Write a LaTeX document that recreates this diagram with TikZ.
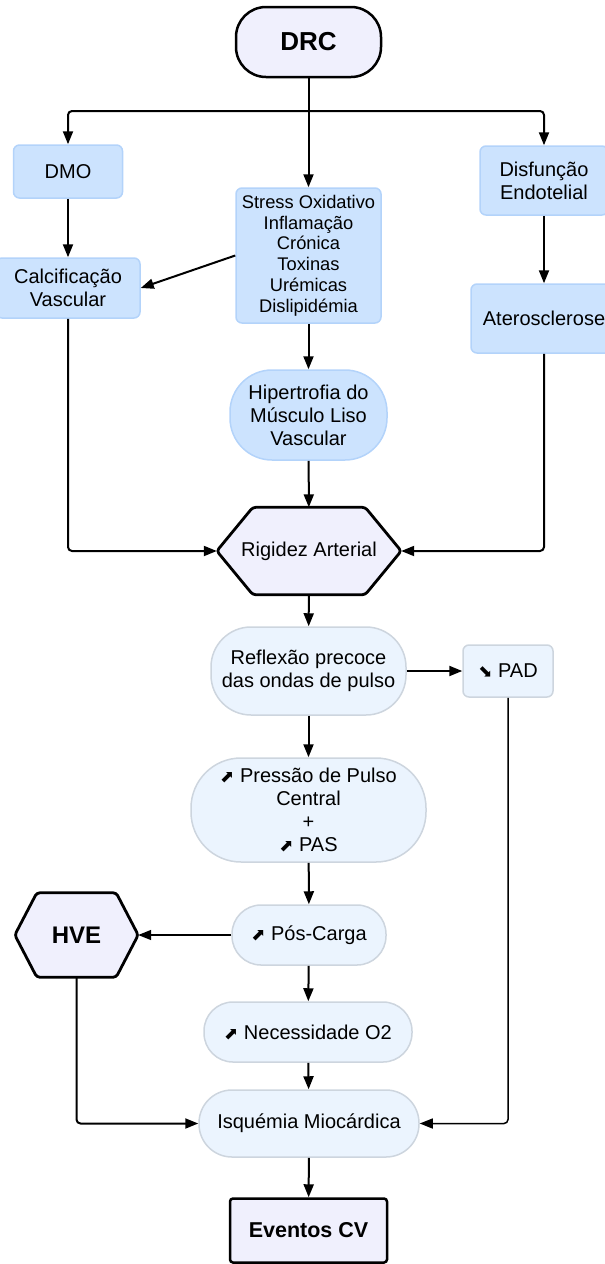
\documentclass[tikz,border=0pt]{standalone}
\usepackage{fontspec}
\setmainfont{Liberation Sans}
\newfontfamily\symfont{DejaVu Sans}
\usetikzlibrary{arrows.meta,backgrounds}
\definecolor{lav}{HTML}{F0F0FD}
\definecolor{bfill}{HTML}{CCE3FE}
\definecolor{bline}{HTML}{B3D3FA}
\definecolor{lfill}{HTML}{EBF4FE}
\definecolor{lline}{HTML}{CDD5DE}
\newcommand{\upa}{{\symfont\fontsize{17}{17}\selectfont ⬈}}
\newcommand{\dna}{{\symfont\fontsize{17}{17}\selectfont ⬊}}
\tikzset{
  base/.style={inner sep=0pt, align=center, font=\fontsize{20}{23}\selectfont},
  bluebox/.style={base, rectangle, rounded corners=6pt, fill=bfill, draw=bline, line width=1.5pt},
  lightpill/.style={base, rectangle, fill=lfill, draw=lline, line width=1.5pt},
  darkbox/.style={base, rectangle, fill=lav, draw=black, line width=2.5pt},
  hexnode/.style={base, rectangle, draw=none},
  hexstyle/.style={fill=lav, draw=black, line width=2.8pt, rounded corners=3pt, line join=round},
  conn/.style={line width=2pt, -{Triangle[length=13pt,width=10pt]}},
  thinconn/.style={line width=1.5pt, -{Triangle[length=13pt,width=10pt]}},
}
\begin{document}
\begin{tikzpicture}[x=1pt,y=-1pt]
\useasboundingbox (0,0) rectangle (605,1264);

\node[darkbox, rounded corners=30pt, minimum width=145pt, minimum height=70pt, font=\fontsize{26}{30}\selectfont\bfseries] (drc) at (308.5,42) {DRC};
\node[bluebox, minimum width=109pt, minimum height=53pt] (dmo) at (68,171.5) {DMO};
\node[bluebox, minimum width=128pt, minimum height=69pt] (disf) at (544,180.5) {Disfunção\\Endotelial};
\node[bluebox, minimum width=145pt, minimum height=135pt, font=\fontsize{18.3}{20.8}\selectfont] (stress) at (308.5,255.5) {Stress Oxidativo\\Inflamação\\Crónica\\Toxinas\\Urémicas\\Dislipidémia};
\node[bluebox, minimum width=144pt, minimum height=60pt] (calc) at (68,288) {Calcificação\\Vascular};
\node[bluebox, minimum width=146pt, minimum height=69pt] (ater) at (544,318.5) {Aterosclerose};
\node[bluebox, rounded corners=42pt, minimum width=157pt, minimum height=90pt] (hip) at (308.5,415) {Hipertrofia do\\Músculo Liso\\Vascular};
\node[hexnode, minimum width=184pt, minimum height=87pt] (rig) at (309,551) {Rigidez Arterial};
\node[lightpill, rounded corners=40pt, minimum width=195pt, minimum height=88pt] (refl) at (308.5,671) {Reflexão precoce\\das ondas de pulso};
\node[lightpill, rounded corners=6pt, minimum width=90pt, minimum height=52pt] (pad) at (508,671) {\dna\ PAD};
\node[lightpill, rounded corners=50pt, minimum width=235pt, minimum height=104pt] (pres) at (308.5,810) {\upa\ Pressão de Pulso\\Central\\+\\\upa\ PAS};
\node[lightpill, rounded corners=29pt, minimum width=154pt, minimum height=60pt] (pos) at (309,935) {\upa\ Pós-Carga};
\node[hexnode, minimum width=123pt, minimum height=84pt, font=\fontsize{24}{28}\selectfont\bfseries] (hve) at (76.5,935) {HVE};
\node[lightpill, rounded corners=29pt, minimum width=208pt, minimum height=60pt] (nec) at (308,1032) {\upa\ Necessidade O2};
\node[lightpill, rounded corners=33pt, minimum width=220pt, minimum height=67pt] (isq) at (309,1123.5) {Isquémia Miocárdica};
\node[darkbox, rounded corners=3pt, minimum width=157pt, minimum height=64pt, font=\fontsize{21.5}{25}\selectfont\bfseries] (eve) at (308.5,1230.5) {Eventos CV};

\begin{scope}[on background layer]
\draw[hexstyle] (rig.west) -- ([xshift=36pt]rig.north west) -- ([xshift=-36pt]rig.north east) -- (rig.east) -- ([xshift=-36pt]rig.south east) -- ([xshift=36pt]rig.south west) -- cycle;
\draw[hexstyle] (hve.west) -- ([xshift=22pt]hve.north west) -- ([xshift=-22pt]hve.north east) -- (hve.east) -- ([xshift=-22pt]hve.south east) -- ([xshift=22pt]hve.south west) -- cycle;
\end{scope}

\coordinate (j) at (308.5,111);
\draw[conn] (drc.south) -- (stress.north);
\draw[conn, rounded corners=4pt] (j) -| (dmo.north);
\draw[conn, rounded corners=4pt] (j) -| (disf.north);
\draw[conn] (dmo) -- (calc);
\draw[conn] (stress.west) -- (calc.east);
\draw[conn] (disf) -- (ater);
\draw[conn] (stress) -- (hip);
\draw[conn] (hip) -- (rig);
\draw[conn, rounded corners=4pt] (calc.south) |- (rig.west);
\draw[conn, rounded corners=4pt] (ater.south) |- (rig.east);
\draw[conn] (rig) -- (refl);
\draw[conn] (refl) -- (pad);
\draw[conn] (refl) -- (pres);
\draw[conn] (pres) -- (pos);
\draw[thinconn] (pos) -- (hve);
\draw[conn] (pos) -- (nec);
\draw[conn] (nec) -- (isq);
\draw[conn, rounded corners=4pt] (hve.south) |- (isq.west);
\draw[thinconn, rounded corners=4pt] (pad.south) |- (isq.east);
\draw[conn] (isq) -- (eve);
\end{tikzpicture}
\end{document}
